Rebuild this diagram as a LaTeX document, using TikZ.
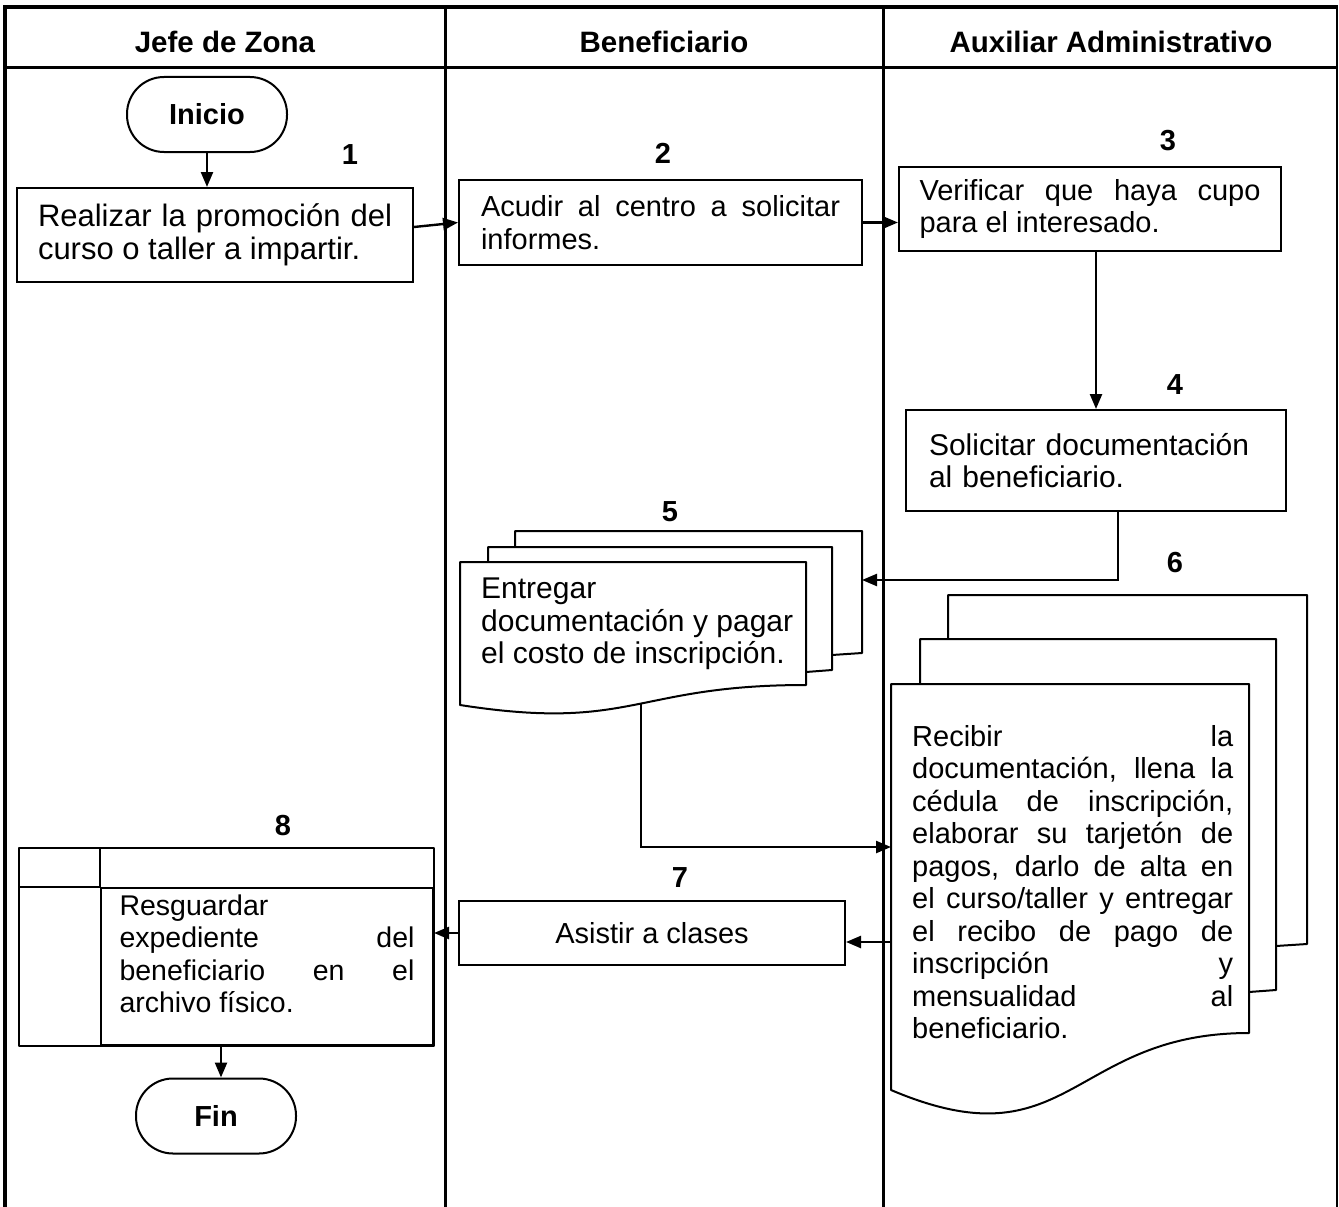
\documentclass[tikz,border=0pt]{standalone}
\usepackage{fontspec}
\setmainfont{Liberation Sans}
\usepackage{xcolor}
\usepackage{tikz}
\usetikzlibrary{calc,arrows.meta,positioning}
\definecolor{ink}{HTML}{000000}
\definecolor{paper}{HTML}{FFFFFF}
\tolerance=10000 \hbadness=10000 \hyphenpenalty=10000
\tikzset{
  frame/.style={draw=ink, line width=4pt},
  lane/.style={draw=ink, line width=3pt},
  edge/.style={draw=ink, line width=2pt, line join=round},
  box/.style={draw=ink, line width=2pt, inner ysep=0pt, align=justify, font=\fontsize{29pt}{32.5pt}\selectfont},
  txt/.style={inner sep=0pt, align=justify, font=\fontsize{29pt}{32.5pt}\selectfont},
  term/.style={draw=ink, line width=2pt, rounded corners=37pt, minimum width=160pt, minimum height=75pt, font=\fontsize{29pt}{32.5pt}\selectfont\bfseries},
  head/.style={font=\fontsize{29.5pt}{32.5pt}\selectfont\bfseries},
  num/.style={font=\fontsize{29pt}{32.5pt}\selectfont\bfseries},
  flow/.style={draw=ink, line width=2.4pt, -{Triangle[length=15pt,width=12pt]}},
}

\begin{document}
\begin{tikzpicture}[x=1pt, y=-1pt]
\useasboundingbox[fill=paper] (0,0) rectangle (1339,1207);

% lanes
\draw[frame] (3,7) -- (1338,7);
\draw[frame] (5,7) -- (5,1207);
\draw[lane] (3,68) -- (1338,68);
\foreach \x in {445,883}
  \draw[lane] (\x,7) -- (\x,1207);
\draw[lane, line width=2pt] (1337,7) -- (1337,1207);

\node[head] (hjefe) at (225,42) {Jefe de Zona};
\node[head] (hbenef) at (664,42) {Beneficiario};
\node[head] (haux) at (1111,42) {Auxiliar Administrativo};

% steps
\node[term] (inicio) at (207,114.5) {Inicio};
\node[box, text width=354pt, inner xsep=21pt, minimum height=94pt, font=\fontsize{31pt}{33.5pt}\selectfont] (b1) at (215,235)
  {Realizar la promoción del\linebreak curso o taller a impartir.};
\node[box, text width=359pt, inner xsep=22pt, minimum height=85pt] (b2) at (660.5,222.5)
  {Acudir al centro a solicitar\linebreak informes.};
\node[box, text width=341pt, inner xsep=20.5pt, minimum height=84pt] (b3) at (1090,209)
  {Verificar que haya cupo\linebreak para el interesado.};
\node[box, text width=334pt, inner xsep=23pt, minimum height=101pt, align=left, font=\fontsize{30pt}{32.5pt}\selectfont] (b4) at (1096,460.5)
  {Solicitar documentación\\al beneficiario.};

% documento 5
\draw[edge] (460,562) -- (806,562) -- (806,685) .. controls (633,685) and (633,732) .. (460,705) -- cycle;
\draw[edge] (488,562) -- (488,547) -- (832,547) -- (832,670) -- (806,672);
\draw[edge] (515,547) -- (515,531) -- (862,531) -- (862,653) -- (832,655);
\node[txt, text width=312pt, anchor=north west, font=\fontsize{30pt}{32.5pt}\selectfont] (d5) at (481,578)
  {Entregar\linebreak documentación y pagar\linebreak el costo de inscripción.};
\coordinate (d5in) at (862,580);
\coordinate (d5out) at (641,704);

% documento 6
\draw[edge] (891,684) -- (1249,684) -- (1249,1033) .. controls (1070,1033) and (1070,1166) .. (891,1090) -- cycle;
\draw[edge] (920,684) -- (920,639) -- (1276,639) -- (1276,990) -- (1249,992);
\draw[edge] (948,639) -- (948,595) -- (1307,595) -- (1307,944) -- (1276,946);
\node[txt, text width=321pt, anchor=north west] (d6) at (912,725)
  {Recibir la\linebreak documentación, llena la\linebreak cédula de inscripción,\linebreak
   elaborar su tarjetón de\linebreak pagos, darlo de alta en\linebreak el curso/taller y entregar\linebreak
   el recibo de pago de\linebreak inscripción y\linebreak mensualidad al\linebreak beneficiario.};
\coordinate (d6in) at (891,847);
\coordinate (d6out) at (891,942);

\node[box, minimum width=386pt, minimum height=64pt, align=center] (b7) at (652,933) {Asistir a clases};
\node[box, text width=295pt, inner xsep=18.5pt, minimum height=157pt, font=\fontsize{28.5pt}{32.5pt}\selectfont] (b8) at (267,966.5)
  {Resguardar\linebreak expediente del\linebreak beneficiario en el\linebreak archivo físico.\rule[-26pt]{0pt}{26pt}};
\draw[edge] ($(b8.north west)+(-81,-39)$) rectangle (b8.south east);
\draw[edge] ($(b8.north west)+(0,-39)$) -- (b8.north west);
\draw[edge] (b8.north west) -- ++(-81,0);
\node[term] (fin) at (216,1116) {Fin};

% numbers
\node[num] (n1) at (350,155) {1};
\node[num] (n2) at (663,153) {2};
\node[num] (n3) at (1168,141) {3};
\node[num] (n4) at (1175,385) {4};
\node[num] (n5) at (670,512) {5};
\node[num] (n6) at (1175,563) {6};
\node[num] (n7) at (680,878) {7};
\node[num] (n8) at (283,826) {8};

% connectors
\draw[flow] (inicio) -- (inicio |- b1.north);
\draw[flow] ([yshift=8pt]b1.east) -- (b2.west);
\draw[flow] (b2.east) -- (b2.east -| b3.west);
\draw[flow] (b3.south -| b4.north) -- (b4.north);
\draw[flow] ([xshift=22pt]b4.south) |- (d5in);
\draw[flow] (d5out) |- (d6in);
\draw[flow] (d6out) -- (d6out -| b7.east);
\draw[flow] (b7.west) -- (b7.west -| b8.east);
\draw[flow] ([xshift=5pt]fin.north |- b8.south) -- ([xshift=5pt]fin.north);
\end{tikzpicture}
\end{document}
